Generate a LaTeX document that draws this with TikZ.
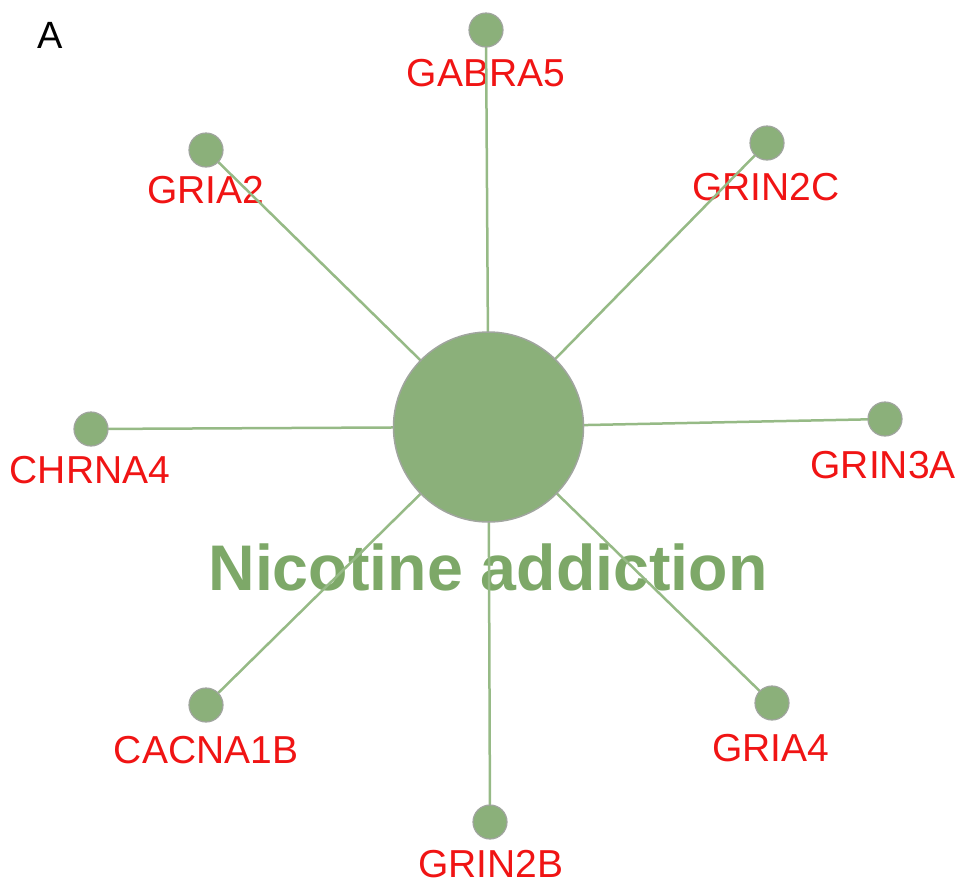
\documentclass[tikz,border=0pt]{standalone}
\usepackage{fontspec}
\setmainfont{Liberation Sans}
\definecolor{nodegreen}{RGB}{139,176,122}
\definecolor{edgegreen}{RGB}{150,186,134}
\definecolor{textgreen}{RGB}{125,168,104}
\definecolor{rimgray}{RGB}{160,165,158}
\definecolor{labred}{RGB}{240,20,20}
\begin{document}
\begin{tikzpicture}[x=1pt,y=-1pt,
  gene/.style={circle,fill=nodegreen,draw=rimgray,line width=1.2pt,minimum size=34pt,inner sep=0pt},
  hub/.style={circle,fill=nodegreen,draw=rimgray,line width=1.5pt,minimum size=190pt,inner sep=0pt},
  lab/.style={text=labred,inner sep=0pt,font=\fontsize{39}{42}\selectfont},
  edge/.style={draw=edgegreen,line width=2.5pt}]
\useasboundingbox (0,0) rectangle (969,895);
\node[inner sep=0pt,font=\fontsize{38}{40}\selectfont] (A) at (50,35) {A};
\node[text=textgreen,inner sep=0pt,font=\fontsize{64.5}{68}\selectfont\bfseries] (title) at (488,567) {Nicotine addiction};
% labels
\node[lab] (l1) at (486,73) {GABRA5};
\node[lab] (l2) at (206,190) {GRIA2};
\node[lab] (l3) at (766,187) {GRIN2C};
\node[lab] (l4) at (90,470) {CHRNA4};
\node[lab,anchor=east] (l5) at (956,465) {GRIN3A};
\node[lab] (l6) at (206,750) {CACNA1B};
\node[lab] (l7) at (771,748) {GRIA4};
\node[lab] (l8) at (491,864) {GRIN2B};
% coordinates for node centres
\coordinate (cc) at (488.5,427);
\coordinate (c1) at (486,30);
\coordinate (c2) at (206,150);
\coordinate (c3) at (767,143);
\coordinate (c4) at (91,429);
\coordinate (c5) at (885,419);
\coordinate (c6) at (206,705);
\coordinate (c7) at (772,703);
\coordinate (c8) at (490,822);
\foreach \i in {1,...,8} {\draw[edge] (cc) -- (c\i);}
\node[hub] (hub) at (cc) {};
\foreach \i in {1,...,8} {\node[gene] (g\i) at (c\i) {};}
\end{tikzpicture}
\end{document}
